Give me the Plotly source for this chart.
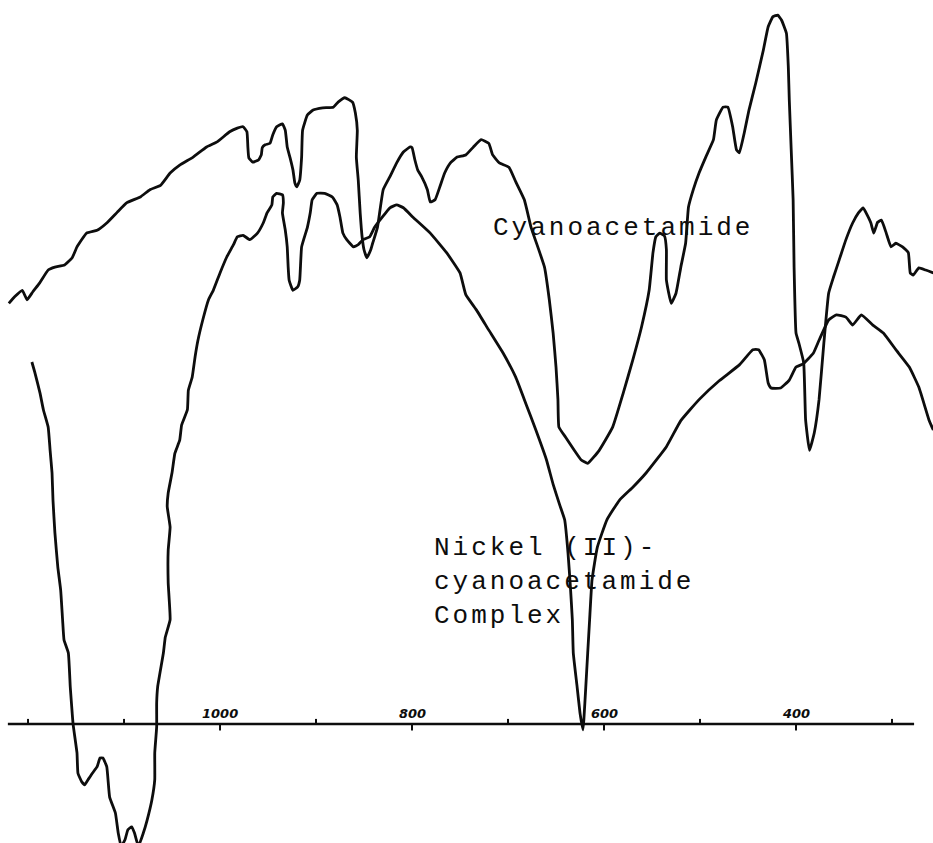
import plotly.graph_objects as go

# Infrared spectra: wavenumber (cm^-1) vs. transmittance (arbitrary %, 0 = chart baseline)
cyano_wavenumber = [
    1220, 1214, 1206, 1201, 1195, 1188, 1179, 1172, 1162, 1154, 1149, 1139, 1128, 1118, 1107,
    1097, 1083, 1073, 1062, 1052, 1042, 1028, 1014, 1003, 990, 982, 976, 972, 971, 970,
    966, 960, 957, 956, 953, 948, 945, 941, 935, 932, 930, 927, 924, 922, 920,
    917, 915, 914, 909, 903, 893, 882, 877, 870, 862, 859, 857, 858, 856, 854,
    852, 850, 847, 843, 841, 836, 830, 823, 816, 809, 802, 800, 797, 794, 790,
    784, 781, 776, 771, 766, 760, 753, 744, 736, 728, 720, 716, 709, 699, 692,
    683, 676, 669, 662, 657, 653, 650, 648, 647, 640, 631, 624, 617, 605, 591,
    580, 570, 561, 553, 549, 546, 542, 537, 535, 535, 530, 525, 520, 515, 512,
    507, 501, 494, 486, 483, 476, 471, 466, 462, 459, 454, 449, 442, 434, 429,
    424, 419, 415, 410, 408, 407, 405, 403, 402, 400, 397, 392, 390, 386, 381,
    376, 371, 366, 361, 355, 348, 341, 335, 330, 327, 322, 319, 315, 311, 306,
    301, 296, 289, 283, 281, 278, 272, 265, 257,
]
cyano_transmittance = [
    58.1, 59.0, 59.9, 58.6, 59.7, 60.9, 62.7, 63.1, 63.4, 64.4, 65.9, 67.8, 68.2, 69.2, 70.7,
    72.0, 72.8, 73.8, 74.4, 76.1, 77.2, 78.3, 79.7, 80.4, 81.8, 82.3, 82.5, 81.8, 79.7, 78.2,
    77.6, 77.9, 78.6, 79.6, 80.0, 80.2, 81.4, 82.5, 82.9, 82.0, 79.7, 78.2, 76.5, 74.7, 74.2,
    75.1, 78.3, 82.0, 84.1, 84.8, 85.1, 85.2, 85.9, 86.5, 85.9, 84.4, 82.0, 78.3, 75.1, 70.6,
    67.3, 65.5, 64.4, 65.5, 66.4, 68.6, 73.8, 75.6, 77.5, 79.0, 79.7, 79.6, 77.9, 76.5, 75.6,
    73.8, 72.1, 72.4, 74.2, 76.1, 77.5, 78.3, 78.6, 79.7, 80.7, 80.2, 78.6, 77.5, 76.9, 74.9,
    72.4, 68.6, 65.9, 63.1, 58.6, 54.0, 49.3, 44.8, 41.0, 39.6, 37.8, 36.5, 36.0, 37.8, 41.0,
    45.7, 50.3, 54.8, 59.9, 65.1, 67.3, 67.8, 67.4, 65.5, 61.3, 58.1, 59.5, 63.1, 66.4, 71.4,
    73.8, 76.1, 78.3, 80.7, 83.4, 85.2, 85.2, 82.5, 79.3, 78.9, 81.6, 84.8, 88.5, 93.1, 96.3,
    97.7, 97.9, 97.2, 95.4, 90.7, 86.2, 79.3, 72.4, 63.1, 54.0, 52.6, 49.9, 42.0, 37.8, 40.2,
    44.8, 52.6, 59.5, 61.7, 64.1, 66.9, 69.2, 70.6, 71.3, 70.6, 69.2, 67.8, 69.3, 69.6, 67.8,
    65.9, 66.4, 65.9, 65.1, 62.3, 62.0, 63.0, 62.7, 62.3,
]

nickel_wavenumber = [
    1196, 1193, 1187.5, 1184, 1179, 1177, 1175, 1174, 1172, 1169, 1166, 1164, 1162.5, 1158, 1156,
    1154, 1153, 1149, 1148, 1144, 1141, 1137.5, 1133, 1128, 1125, 1122, 1118, 1115, 1109, 1106,
    1103, 1099, 1096, 1092, 1089, 1085, 1080, 1076, 1071, 1068, 1068, 1066, 1066, 1065, 1059,
    1057, 1052, 1054, 1054, 1052, 1055, 1054, 1050, 1047, 1042, 1040, 1034, 1033, 1029, 1026,
    1023, 1018, 1012, 1007, 1000, 993, 986, 982, 976, 969, 961, 955, 951, 946, 945,
    941, 935, 934, 935, 932, 930, 929, 928, 924, 919, 917, 915, 909, 906, 904,
    899, 891, 883, 878, 875, 872, 868, 861, 856, 851, 844, 839, 831, 823, 816,
    809, 799, 781, 764, 750, 744, 733, 720, 705, 692, 681, 671, 660, 653, 646,
    641, 637.5, 635, 633, 632, 628, 625, 622, 621, 619, 617, 615, 612.5, 607, 597,
    584, 570, 556, 535, 520, 501, 480, 459, 445, 439, 433, 429, 426, 416, 407,
    400, 393, 382, 376, 366, 358, 348, 341, 332, 320, 309, 296, 282, 272, 261.5,
    257,
]
nickel_transmittance = [
    50.0, 48.6, 45.7, 43.4, 41.0, 37.8, 34.7, 30.9, 26.4, 21.7, 18.5, 14.4, 11.6, 9.8, 5.1,
    1.5, -0.1, -4.0, -6.8, -8.0, -8.4, -7.7, -6.8, -5.9, -4.7, -4.7, -5.9, -10.1, -12.3, -15.1,
    -16.9, -16.0, -14.6, -14.2, -15.1, -16.9, -15.1, -13.3, -10.5, -7.7, -4.0, -0.4, 2.9, 5.1, 9.8,
    12.0, 14.4, 19.5, 24.0, 27.2, 30.0, 31.9, 34.7, 37.4, 39.2, 41.3, 43.4, 46.1, 47.9, 50.7,
    53.0, 55.8, 58.6, 59.9, 62.3, 64.5, 66.2, 67.3, 67.5, 66.9, 67.8, 69.2, 70.6, 71.7, 72.8,
    73.3, 73.1, 72.0, 70.6, 68.2, 65.9, 63.1, 61.3, 59.9, 60.4, 61.3, 65.9, 68.6, 70.6, 72.4,
    73.3, 73.3, 72.8, 71.7, 70.0, 67.8, 66.9, 65.9, 66.2, 66.9, 67.3, 68.6, 70.0, 71.3, 71.7,
    71.3, 70.0, 67.8, 65.1, 62.3, 59.3, 57.2, 54.4, 51.2, 47.9, 44.1, 40.6, 36.5, 33.1, 30.2,
    28.2, 23.6, 18.9, 14.4, 9.8, 5.1, 1.5, -0.8, 0.6, 5.1, 9.8, 14.4, 19.9, 24.4, 28.2,
    30.9, 32.7, 34.7, 38.3, 41.9, 44.8, 47.4, 49.6, 51.7, 51.7, 50.3, 47.1, 46.4, 46.4, 47.5,
    49.3, 49.7, 51.2, 53.0, 55.8, 56.5, 56.2, 55.1, 56.5, 55.1, 54.0, 51.7, 49.3, 46.5, 42.0,
    40.6,
]

# Wavenumber scale along the baseline
baseline_wavenumber = [1221, 277]
minor_tick_wavenumber = [1200, 1100, 900, 700, 500, 300]
labelled_tick_wavenumber = [1000, 800, 600, 400]
labelled_tick_text = ["1000", "800", "600", "400"]

INK = "#0d0d0d"

fig = go.Figure()

fig.add_trace(go.Scatter(
    x=baseline_wavenumber, y=[0, 0], mode="lines",
    line=dict(color=INK, width=2.6), hoverinfo="skip", showlegend=False,
))

fig.add_trace(go.Scatter(
    x=cyano_wavenumber, y=cyano_transmittance, mode="lines", name="Cyanoacetamide",
    line=dict(color=INK, width=2.8, shape="spline", smoothing=0.35), showlegend=False,
))

fig.add_trace(go.Scatter(
    x=nickel_wavenumber, y=nickel_transmittance, mode="lines",
    name="Nickel (II)-cyanoacetamide Complex",
    line=dict(color=INK, width=2.8, shape="spline", smoothing=0.35), showlegend=False,
))

shapes = []
for w in minor_tick_wavenumber:
    shapes.append(dict(type="line", xref="x", yref="y", x0=w, x1=w, y0=0, y1=0.7,
                       line=dict(color=INK, width=2)))
for w in labelled_tick_wavenumber:
    shapes.append(dict(type="line", xref="x", yref="y", x0=w, x1=w, y0=0, y1=-0.9,
                       line=dict(color=INK, width=2)))

annotations = []
for w, txt in zip(labelled_tick_wavenumber, labelled_tick_text):
    annotations.append(dict(
        x=w, y=0.15, xref="x", yref="y", text=txt, showarrow=False,
        xanchor="center", yanchor="bottom",
        font=dict(family="DejaVu Sans", size=13, color=INK, style="italic", weight="bold"),
    ))

label_font = dict(family="Liberation Mono", size=26, color=INK)
annotations.append(dict(
    x=718, y=68.5, xref="x", yref="y",
    text='<span style="letter-spacing:3px">Cyanoacetamide</span>',
    showarrow=False, xanchor="left", yanchor="middle", font=label_font,
))
annotations.append(dict(
    x=779, y=19.6, xref="x", yref="y",
    text=('<span style="letter-spacing:3px">Nickel (II)-</span><br>'
          '<span style="letter-spacing:3px">cyanoacetamide</span><br>'
          '<span style="letter-spacing:3px">Complex</span>'),
    showarrow=False, xanchor="left", yanchor="middle", align="left", font=label_font,
))

fig.update_layout(
    width=933, height=843, autosize=False,
    margin=dict(l=0, r=0, t=0, b=0),
    paper_bgcolor="white", plot_bgcolor="white",
    shapes=shapes, annotations=annotations,
    xaxis=dict(range=[1229.2, 257.3], showgrid=False, zeroline=False, showline=False,
               showticklabels=False, ticks=""),
    yaxis=dict(range=[-16.44, 100], showgrid=False, zeroline=False, showline=False,
               showticklabels=False, ticks=""),
)

fig.write_html("out.html")
